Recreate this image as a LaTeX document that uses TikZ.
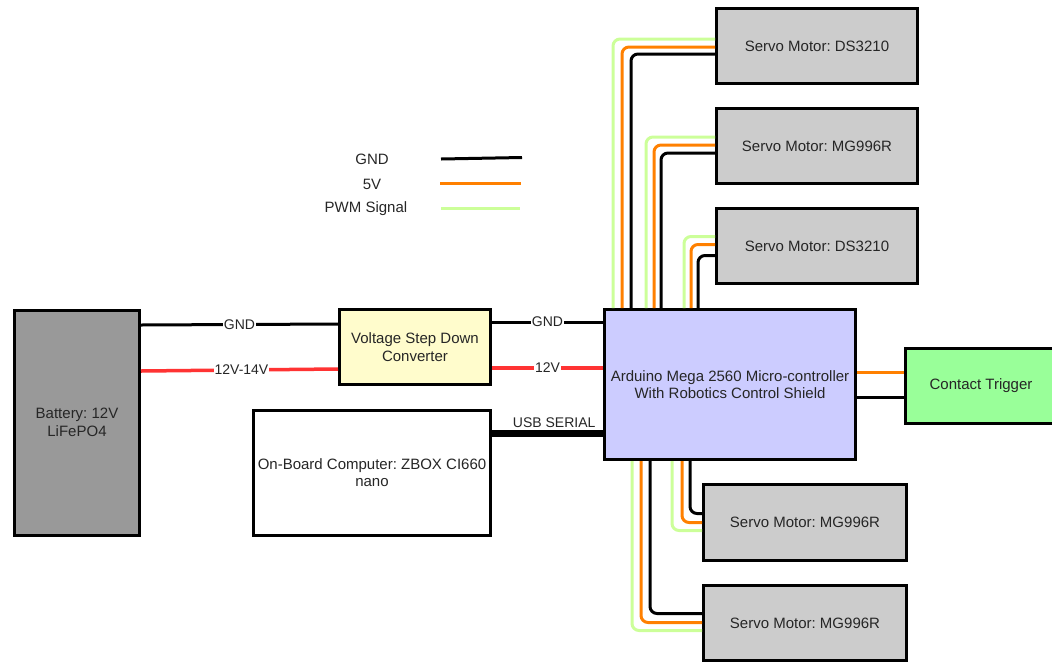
\documentclass[tikz,border=0pt]{standalone}
\usepackage{fontspec}
\setmainfont{Liberation Sans}
\usetikzlibrary{positioning}
\definecolor{wireOrange}{HTML}{FF8000}
\definecolor{wirePwm}{HTML}{CCFF99}
\definecolor{wireRed}{HTML}{FF3333}
\frenchspacing
\tikzset{
  % Base styles
  diagram base/.style={
    x=1pt, y=-1pt,
    every node/.style={font=\fontsize{15}{17.5}\selectfont, text=black!85},
  },
  % Blocks
  block node/.style={rectangle, draw=black, line width=3pt, align=center, inner sep=0pt},
  servo node/.style={block node, fill=black!20, minimum width=201pt, minimum height=75pt},
  % Wires
  wire gnd/.style={draw=black, line width=3pt},
  wire five/.style={draw=wireOrange, line width=3pt},
  wire pwm/.style={draw=wirePwm, line width=3pt},
  wire power/.style={draw=wireRed, line width=3.5pt},
  bent/.style={rounded corners=7pt},
  % Edge labels
  wire label/.style={font=\fontsize{14}{16}\selectfont, fill=white, inner sep=1pt},
}

\begin{document}
\begin{tikzpicture}[diagram base]
\path[use as bounding box, clip] (0,0) rectangle (1052,662);

% Controller
\node[block node, fill=blue!20, minimum width=251pt, minimum height=150pt] (mcu) at (730,384.5) {Arduino Mega 2560 Micro-controller\\With Robotics Control Shield};

% Servo motors
\node[servo node, above right=23pt and -142pt of mcu] (servoC) {Servo Motor: DS3210};
\node[servo node, above=22pt of servoC] (servoB) {Servo Motor: MG996R};
\node[servo node, above=22pt of servoB] (servoA) {Servo Motor: DS3210};
\node[servo node, below right=22pt and -155pt of mcu, minimum width=203pt, minimum height=76pt] (servoD) {Servo Motor: MG996R};
\node[servo node, below=22pt of servoD, minimum width=203pt] (servoE) {Servo Motor: MG996R};

% Other blocks
\node[block node, fill=green!40!white, right=47pt of mcu, yshift=-1pt, minimum width=151pt, minimum height=75pt] (contact) {Contact Trigger};
\node[block node, fill=yellow!20, left=111pt of mcu, yshift=37.5pt, minimum width=151pt, minimum height=75pt] (conv) {Voltage Step Down\\Converter};
\node[block node, fill=white, left=111pt of mcu, yshift=-88pt, minimum width=237pt, minimum height=125pt] (comp) {On-Board Computer: ZBOX CI660\\nano};
\node[block node, fill=black!40, left=197pt of conv, yshift=-75.5pt, minimum width=125pt, minimum height=225pt] (batt) {Battery: 12V\\LiFePO4};

% Power wires
\draw[wire gnd] ([yshift=97.5pt]batt.east) -- node[wire label] {GND} ([yshift=23pt]conv.west);
\draw[wire power] ([yshift=51.5pt]batt.east) -- node[wire label, pos=0.51] {12V-14V} ([yshift=-22pt]conv.west);
\draw[wire gnd] ([yshift=25pt]conv.east) -- node[wire label] {GND} ([yshift=62.5pt]mcu.west);
\draw[wire power] ([yshift=-21pt]conv.east) -- node[wire label] {12V} ([yshift=16.5pt]mcu.west);

% USB link
\draw[draw=black, line width=7pt] ([yshift=39.5pt]comp.east) -- node[wire label, pos=0.56, yshift=10pt] {USB SERIAL} ([yshift=-48.5pt]mcu.west);

% Wires to servo A
\draw[wire pwm, bent] ([xshift=10pt]mcu.north west) |- ([yshift=7pt]servoA.west);
\draw[wire five, bent] ([xshift=19pt]mcu.north west) |- ([yshift=-1pt]servoA.west);
\draw[wire gnd, bent] ([xshift=28pt]mcu.north west) |- ([yshift=-8pt]servoA.west);

% Wires to servo B
\draw[wire pwm, bent] ([xshift=43pt]mcu.north west) |- ([yshift=9pt]servoB.west);
\draw[wire five, bent] ([xshift=51pt]mcu.north west) |- ([yshift=1pt]servoB.west);
\draw[wire gnd, bent] ([xshift=58pt]mcu.north west) |- ([yshift=-7pt]servoB.west);

% Wires to servo C
\draw[wire pwm, bent] ([xshift=81pt]mcu.north west) |- ([yshift=9.5pt]servoC.west);
\draw[wire five, bent] ([xshift=88pt]mcu.north west) |- ([yshift=1.5pt]servoC.west);
\draw[wire gnd, bent] ([xshift=95pt]mcu.north west) |- ([yshift=-9.5pt]servoC.west);

% Wires to servo D
\draw[wire pwm, bent] ([xshift=69pt]mcu.south west) |- ([yshift=-8pt]servoD.west);
\draw[wire five, bent] ([xshift=79pt]mcu.south west) |- (servoD.west);
\draw[wire gnd, bent] ([xshift=87pt]mcu.south west) |- ([yshift=9pt]servoD.west);

% Wires to servo E
\draw[wire pwm, bent] ([xshift=29pt]mcu.south west) |- ([yshift=-7.5pt]servoE.west);
\draw[wire five, bent] ([xshift=38pt]mcu.south west) |- ([yshift=0.5pt]servoE.west);
\draw[wire gnd, bent] ([xshift=47pt]mcu.south west) |- ([yshift=9.5pt]servoE.west);

% Wires to contact trigger
\draw[wire five] ([yshift=12.5pt]mcu.east) -- ([yshift=13.5pt]contact.west);
\draw[wire gnd] ([yshift=-12.5pt]mcu.east) -- ([yshift=-11.5pt]contact.west);

% Legend
\node (legGnd) at (372,159) {GND};
\node (legFive) at (372,184) {5V};
\node (legPwm) at (366,209) {PWM Signal};
\coordinate (legGndA) at (441,159);
\coordinate (legGndB) at (522,157.5);
\coordinate (legFiveA) at (440,183);
\coordinate (legFiveB) at (521,183);
\coordinate (legPwmA) at (441,208);
\coordinate (legPwmB) at (520,208);
\draw[wire gnd] (legGndA) -- (legGndB);
\draw[wire five] (legFiveA) -- (legFiveB);
\draw[wire pwm] (legPwmA) -- (legPwmB);
\end{tikzpicture}
\end{document}
